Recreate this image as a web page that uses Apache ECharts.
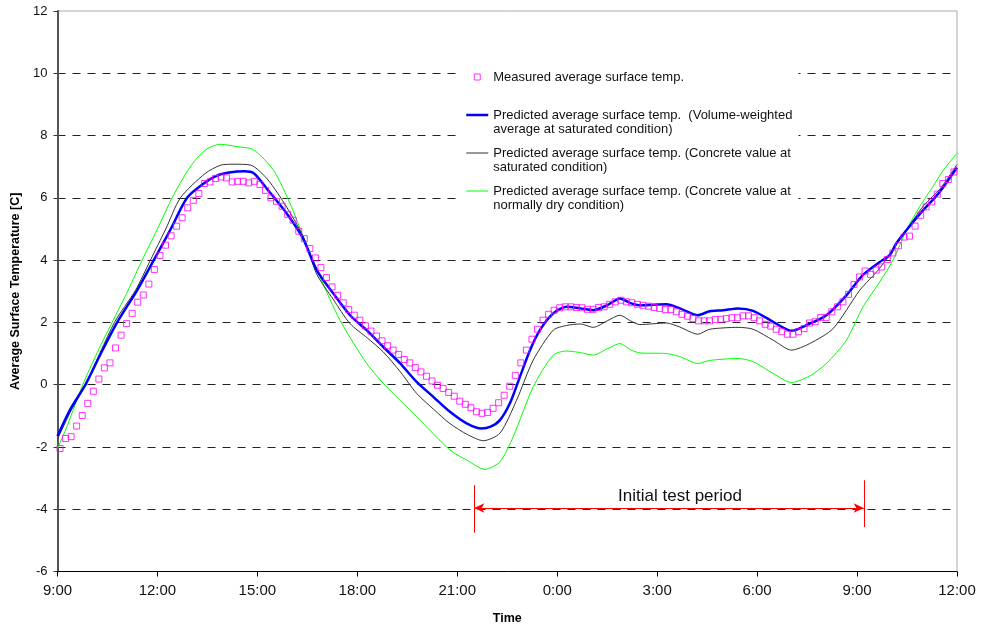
<!DOCTYPE html>
<html><head><meta charset="utf-8">
<script src="https://cdn.jsdelivr.net/npm/echarts@6/dist/echarts.min.js"></script>
<style>html,body{margin:0;padding:0;background:#fff}#c{width:984px;height:630px}</style>
</head><body><div id="c"></div>
<script>
const FONT = 'Arial, "Liberation Sans", sans-serif';

// x axis: hours elapsed since 9:00 on day 1 (0 .. 27)
const xStartClock = 9;
const xMaxHours = 27;
const xTickStep = 3;

// measured points every 10 minutes
const measuredStartHour = 0.075;
const measuredStepHour = 1 / 6;
const measuredValues = [
  -2.05,-1.73,-1.67,-1.33,-0.99,-0.6,-0.21,0.18,0.54,0.7,1.18,1.59,1.96,2.29,2.65,2.88,3.23,3.7,4.15,4.48,4.78,
  5.09,5.36,5.68,5.92,6.14,6.46,6.51,6.62,6.67,6.64,6.51,6.53,6.53,6.48,6.53,6.43,6.24,6.0,5.89,5.73,5.47,5.28,4.93,4.69,
  4.37,4.07,3.76,3.44,3.14,2.87,2.63,2.41,2.23,2.07,
  1.89,1.72,1.56,1.41,1.25,1.11,0.97,0.81,0.7,0.55,
  0.41,0.27,0.12,-0.02,-0.12,-0.25,-0.37,-0.53,-0.63,-0.74,
  -0.87,-0.92,-0.89,-0.76,-0.58,-0.34,-0.05,0.3,0.7,1.11,
  1.46,1.78,2.07,2.26,2.39,2.47,2.5,2.5,2.48,2.47,
  2.42,2.42,2.48,2.5,2.58,2.66,2.71,2.66,2.63,2.58,
  2.55,2.52,2.48,2.45,2.41,2.41,2.34,2.26,2.2,2.12,
  2.05,2.05,2.05,2.09,2.1,2.12,2.15,2.15,2.21,2.21,
  2.15,2.05,1.94,1.88,1.78,1.7,1.62,1.62,1.7,1.8,
  1.98,2.02,2.16,2.16,2.34,2.5,2.66,2.9,3.22,3.46,
  3.65,3.54,3.68,3.78,4.02,4.23,4.46,4.74,4.77,
  5.09,5.44,5.71,5.87,6.12,6.46,6.59,6.83
];

// predicted curves: [hours since 9:00, temperature]
const predVolumeWeighted = [
  [0,-1.65],[0.38,-0.8],[0.84,0],[1.3,1.0],[1.79,2.0],[2.39,3.03],[2.89,4.0],[3.4,5.0],[3.89,6.0],[4.39,6.46],
  [4.8,6.72],[5.2,6.82],[5.6,6.85],[5.9,6.78],[6.28,6.3],[6.88,5.5],[7.37,4.7],[7.78,3.68],[8.27,2.94],[8.78,2.23],
  [9.28,1.75],[9.78,1.21],[10.28,0.69],[10.78,0.09],[11.28,-0.39],[11.78,-0.87],[12.28,-1.24],[12.73,-1.41],[13.0,-1.35],
  [13.28,-1.14],[13.58,-0.6],[13.88,0.25],[14.18,1.1],[14.48,1.75],[14.88,2.29],[15.28,2.5],[15.7,2.45],[16.08,2.39],
  [16.5,2.55],[16.88,2.77],[17.2,2.62],[17.48,2.55],[17.9,2.57],[18.28,2.58],[18.68,2.45],[19.22,2.23],[19.58,2.36],
  [19.98,2.39],[20.43,2.45],[20.88,2.37],[21.48,2.02],[22.03,1.73],[22.48,1.91],[23.08,2.23],[23.68,2.87],[24.17,3.52],
  [24.68,3.94],[24.98,4.16],[25.18,4.54],[25.48,4.96],[25.9,5.5],[26.48,6.19],[27,6.97]
];
const predConcreteSaturated = [
  [0,-1.75],[0.4,-0.85],[0.84,0],[1.71,2.0],[2.34,3.03],[2.79,4.0],[3.25,5.0],[3.69,6.0],[4.43,6.78],[4.9,7.05],[5.3,7.08],[5.8,7.05],
  [6.3,6.6],[6.88,5.7],[7.4,4.7],[7.78,3.55],[8.27,2.75],[8.78,1.96],[9.3,1.5],[9.78,1.05],[10.3,0.4],[10.78,-0.28],
  [11.3,-0.8],[11.78,-1.25],[12.3,-1.6],[12.78,-1.8],[13.28,-1.56],[13.78,-0.5],[14.28,0.79],[14.88,1.75],[15.28,1.9],
  [15.7,1.95],[16.08,1.84],[16.5,2.05],[16.88,2.23],[17.2,2.05],[17.48,1.93],[18.28,1.98],[18.68,1.85],[19.22,1.62],
  [19.58,1.78],[20.43,1.84],[20.88,1.78],[21.48,1.43],[22.03,1.11],[22.58,1.32],[23.28,1.8],[24.08,3.03],[24.68,3.74],
  [25.48,4.96],[26.0,5.75],[26.5,6.3],[27,7.07]
];
const predConcreteDry = [
  [0,-2.05],[0.3,-1.3],[0.76,0],[1.2,1.05],[1.64,2.0],[2.12,3.03],[2.54,4.0],[3.0,5.0],[3.44,6.0],[3.98,6.99],[4.43,7.53],
  [4.88,7.72],[5.48,7.63],[5.88,7.55],[6.48,6.89],[6.98,5.82],[7.38,4.74],[7.88,3.46],[8.48,2.07],[9.28,0.68],[9.78,0.04],[10.78,-1.03],
  [11.78,-2.1],[12.28,-2.42],[12.83,-2.72],[13.28,-2.48],[13.68,-1.67],[14.28,-0.07],[14.88,0.95],[15.28,1.08],
  [15.7,1.03],[16.08,0.95],[16.5,1.15],[16.88,1.32],[17.2,1.12],[17.48,1.02],[18.28,1.0],[18.68,0.9],[19.22,0.68],
  [19.58,0.78],[20.43,0.84],[20.88,0.74],[21.48,0.36],[22.03,0.07],[22.58,0.28],[23.08,0.68],[23.68,1.43],[24.18,2.5],
  [24.68,3.3],[25.08,4.0],[25.48,4.96],[25.9,5.75],[26.27,6.35],[26.6,6.9],[27,7.43]
];

const seriesNames = [
  'Measured average surface temp.',
  'Predicted average surface temp.  (Volume-weighted\naverage at saturated condition)',
  'Predicted average surface temp. (Concrete value at\nsaturated condition)',
  'Predicted average surface temp. (Concrete value at\nnormally dry condition)'
];
const seriesColors = ['#ff00ff', '#0000ff', '#333333', '#00ff00'];
const seriesWidths = [1, 2.5, 1, 1];

// annotation (data space)
const testPeriodStart = 12.51;
const testPeriodEnd = 24.2;
const testPeriodY = -3.96;
const testStartBar = [-3.23, -4.75];
const testEndBar = [-3.07, -4.57];
const testPeriodLabel = 'Initial test period';
const annotationColor = '#ff0000';

const measuredData = measuredValues.map((v, i) => [measuredStartHour + i * measuredStepHour, v]);

const LINE_ICON = 'path://M0,0M22,14M0,7L22,7';
const SQUARE_ICON = 'path://M0,0M22,14M8,4L14,4L14,10L8,10Z';

// pad every legend label to three lines so the first text line sits beside the icon
const legendLabel = name => (name.indexOf('\n') < 0 ? ' \n' + name + '\n ' : ' \n' + name);

const redLine = {color: annotationColor, width: 1, type: 'solid'};

const chart = echarts.init(document.getElementById('c'), null, {renderer: 'canvas'});
chart.setOption({
  animation: false,
  backgroundColor: '#fff',
  grid: {left: 57.5, right: 27, top: 11, bottom: 58.5, show: true, borderColor: '#aaa', borderWidth: 1,
         backgroundColor: '#fff', outerBoundsMode: 'none', containLabel: false},
  legend: {
    orient: 'vertical', left: 457, top: 56, selectedMode: false,
    backgroundColor: '#fff', padding: [0, 6, 0, 8],
    itemWidth: 22, itemHeight: 14, itemGap: -4,
    textStyle: {fontFamily: FONT, fontSize: 13, color: '#111', lineHeight: 14},
    formatter: legendLabel,
    data: seriesNames.map((n, i) => ({
      name: n,
      icon: i === 0 ? SQUARE_ICON : LINE_ICON,
      itemStyle: {color: 'rgba(0,0,0,0)', borderColor: seriesColors[i], borderWidth: seriesWidths[i]}
    }))
  },
  xAxis: {
    type: 'value', min: 0, max: xMaxHours, interval: xTickStep,
    name: 'Time', nameLocation: 'middle', nameGap: 41,
    nameTextStyle: {fontFamily: FONT, fontSize: 12.5, fontWeight: 'bold', color: '#000'},
    axisLine: {show: true, onZero: false, lineStyle: {color: '#000', width: 1}},
    axisTick: {show: true, length: 5, lineStyle: {color: '#000'}},
    axisLabel: {fontFamily: FONT, fontSize: 15, color: '#111', margin: 12, showMinLabel: true, showMaxLabel: true,
      formatter: v => ((xStartClock + v) % 24) + ':00'},
    splitLine: {show: false}
  },
  yAxis: {
    type: 'value', min: -6, max: 12, interval: 2,
    name: 'Average Surface Temperature [C]', nameLocation: 'middle', nameGap: 29.5,
    nameTextStyle: {fontFamily: FONT, fontSize: 12.5, fontWeight: 'bold', color: '#000'},
    axisLine: {show: true, onZero: false, lineStyle: {color: '#555', width: 2}},
    axisTick: {show: true, length: 4, lineStyle: {color: '#333'}},
    axisLabel: {fontFamily: FONT, fontSize: 13, color: '#111', margin: 10},
    splitLine: {show: true, showMinLine: false, showMaxLine: false, lineStyle: {color: '#222', width: 1, type: [8, 7]}}
  },
  series: [
    {name: seriesNames[3], type: 'line', data: predConcreteDry, symbol: 'none', smooth: 0.25, z: 2,
     lineStyle: {color: seriesColors[3], width: seriesWidths[3]}, itemStyle: {color: seriesColors[3]}},
    {name: seriesNames[2], type: 'line', data: predConcreteSaturated, symbol: 'none', smooth: 0.25, z: 3,
     lineStyle: {color: seriesColors[2], width: seriesWidths[2]}, itemStyle: {color: seriesColors[2]}},
    {name: seriesNames[1], type: 'line', data: predVolumeWeighted, symbol: 'none', smooth: 0.25, z: 4,
     lineStyle: {color: seriesColors[1], width: seriesWidths[1]}, itemStyle: {color: seriesColors[1]},
     markLine: {
       silent: true, symbol: ['arrow', 'arrow'], symbolSize: [7, 10], z: 6,
       lineStyle: redLine, itemStyle: {color: annotationColor},
       label: {show: true, position: 'middle', formatter: testPeriodLabel, fontFamily: FONT, fontSize: 17,
               color: '#111', distance: 3, padding: [0, 0, 0, 22]},
       data: [
         [{coord: [testPeriodStart, testPeriodY], lineStyle: redLine, itemStyle: {color: annotationColor}},
          {coord: [testPeriodEnd, testPeriodY], itemStyle: {color: annotationColor}}],
         [{coord: [testPeriodStart, testStartBar[0]], symbol: 'none', label: {show: false}, lineStyle: redLine},
          {coord: [testPeriodStart, testStartBar[1]], symbol: 'none'}],
         [{coord: [testPeriodEnd + 0.01, testEndBar[0]], symbol: 'none', label: {show: false}, lineStyle: redLine},
          {coord: [testPeriodEnd + 0.01, testEndBar[1]], symbol: 'none'}]
       ]
     }},
    {name: seriesNames[0], type: 'scatter', data: measuredData, symbol: 'rect', symbolSize: 6, z: 5,
     itemStyle: {color: 'rgba(0,0,0,0)', borderColor: seriesColors[0], borderWidth: 1}}
  ]
});
</script>
</body></html>
